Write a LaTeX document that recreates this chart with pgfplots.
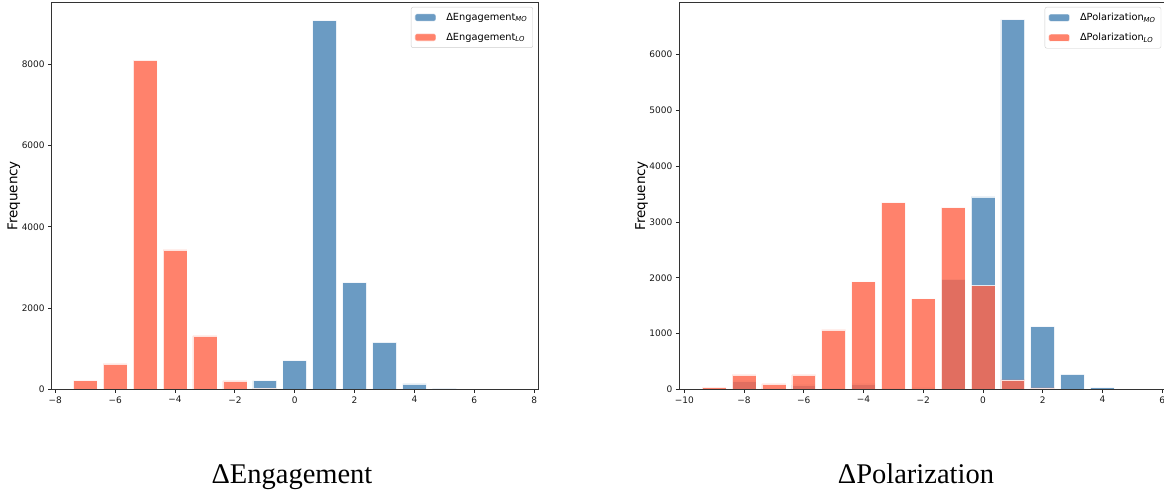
\documentclass[border=0pt]{standalone}
\usepackage{fontspec}
\setmainfont{DejaVu Sans}
\newfontfamily\timesfont{Liberation Serif}
\usepackage{pgfplots}
\pgfplotsset{compat=1.18}
\definecolor{steelblue}{RGB}{70,130,180}
\definecolor{tomato}{RGB}{255,99,71}

\pgfplotsset{
 histstyle/.style={
  scale only axis, width=487pt, height=386.8pt,
  ymin=0, axis on top,
  axis line style={black!80, line width=0.9pt},
  tick align=outside, tick pos=left, major tick length=3.5pt,
  tick style={black!85, line width=0.8pt},
  ticklabel style={font=\fontsize{9}{10}\selectfont, text=black!90},
  /pgf/number format/assume math mode=true,
  /pgf/number format/set thousands separator={},
  scaled y ticks=false,
  every axis y label/.style={at={(axis description cs:-0.0775,0.5)}, rotate=90, anchor=center, font=\fontsize{13.5}{16}\selectfont},
  ylabel={Frequency},
  legend cell align=left,
  legend image code/.code={\fill[##1] (0pt,-3.65pt) rectangle (21pt,3.65pt);},
  legend style={at={(1,1)}, anchor=north east, xshift=-5.7pt, yshift=-4.5pt,
    draw=black!20, rounded corners=2pt, font=\fontsize{9.8}{11}\selectfont,
    inner xsep=3.5pt, inner ysep=4pt, row sep=7.2pt,
    /tikz/every odd column/.append style={column sep=8pt}},
 },
 mo/.style={ybar, bar width=0.8, bar shift=0pt, fill=steelblue, fill opacity=0.8, draw=white, draw opacity=0.8, line width=0.6pt},
 lo/.style={ybar, bar width=0.8, bar shift=0pt, fill=tomato, fill opacity=0.8, draw=white, draw opacity=0.8, line width=0.6pt},
}

\begin{document}
\begin{tikzpicture}
\begin{axis}[histstyle, at={(51.7pt,-2.5pt)}, anchor=north west,
  xmin=-8.12, xmax=8.15, ymax=9520,
  xtick={-8,-6,...,8}, xticklabels={−8,−6,−4,−2,0,2,4,6,8},
  ytick={0,2000,4000,6000,8000}]
\addplot[mo] coordinates {(-1,213) (0,705) (1,9073) (2,2625) (3,1157) (4,131) (5,25)};
\addlegendentry{ΔEngagement\textsubscript{\itshape MO}}
\addplot[lo] coordinates {(-7,213) (-6,623) (-5,8097) (-4,3429) (-3,1313) (-2,205) (-1,25)};
\addlegendentry{ΔEngagement\textsubscript{\itshape LO}}
\end{axis}

\begin{axis}[histstyle, at={(679.3pt,-2.5pt)}, anchor=north west, width=487.6pt,
  xmin=-10.167, xmax=6.16, ymax=6936,
  xtick={-10,-8,...,6}, xticklabels={−10,−8,−6,−4,−2,0,2,4,6},
  ytick={0,1000,...,6000}]
\addplot[mo] coordinates {(-9,15) (-8,150) (-7,18) (-6,78) (-5,18) (-4,96) (-3,18) (-2,24) (-1,1976) (0,3449) (1,6629) (2,1126) (3,269) (4,30)};
\addlegendentry{ΔPolarization\textsubscript{\itshape MO}}
\addplot[lo] coordinates {(-9,36) (-8,257) (-7,96) (-6,257) (-5,1066) (-4,1928) (-3,3347) (-2,1623) (-1,3257) (0,1856) (1,168) (2,24) (3,5)};
\addlegendentry{ΔPolarization\textsubscript{\itshape LO}}
\end{axis}

\node[anchor=base, font=\timesfont\fontsize{28.5}{32}\selectfont] at (292pt,-483.3pt) {ΔEngagement};
\node[anchor=base, font=\timesfont\fontsize{28.5}{32}\selectfont] at (916pt,-483.3pt) {ΔPolarization};

\pgfresetboundingbox
\useasboundingbox (0pt,0pt) rectangle (1164pt,-494pt);
\end{tikzpicture}
\end{document}
